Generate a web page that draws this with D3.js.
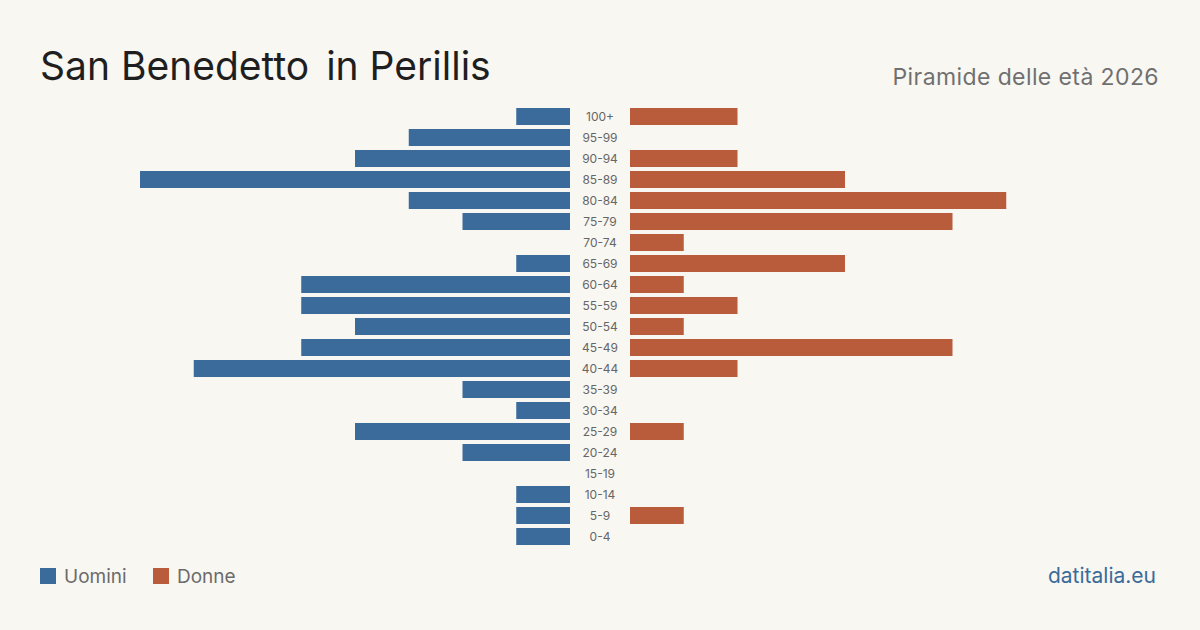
<!DOCTYPE html>
<html><head><meta charset="utf-8">
<script src="https://cdn.jsdelivr.net/npm/d3@7"></script>
<style>
html,body{margin:0;padding:0;background:#f9f7f2;}
svg{display:block;font-family:Inter,"Noto Sans",sans-serif;}
</style></head>
<body>
<svg id="c" width="1200" height="630"></svg>
<script>
const ages = ["100+","95-99","90-94","85-89","80-84","75-79","70-74","65-69","60-64","55-59","50-54","45-49","40-44","35-39","30-34","25-29","20-24","15-19","10-14","5-9","0-4"];
const men   = [1,3,4,8,3,2,0,1,5,5,4,5,7,2,1,4,2,0,1,1,1];
const women = [2,0,2,4,7,6,1,4,1,2,1,6,2,0,0,1,0,0,0,1,0];
const seriesNames = ["Uomini","Donne"];
const colors = ["#3a6b9b","#b95c3c"];

const svg = d3.select("#c");
svg.append("rect").attr("width",1200).attr("height",630).attr("fill","#f9f7f2");

const t = svg.append("text").attr("x",40).attr("y",80).attr("font-size",39).attr("fill","#1f1f1f");
t.append("tspan").text("San Benedetto");
t.append("tspan").attr("dx",6).text(" in Perillis");
svg.append("text").attr("x",1159).attr("y",85).attr("font-size",23).attr("fill","#707070")
  .attr("letter-spacing",0.4).attr("text-anchor","end").text("Piramide delle età 2026");

const y = d3.scaleBand().domain(ages).range([106,547]).paddingInner(0.19).paddingOuter(0.095);
const xL = d3.scaleLinear().domain([0,8]).range([570,140]);
const xR = d3.scaleLinear().domain([0,8]).range([630,1060]);

svg.append("g").selectAll("rect").data(ages).join("rect")
  .attr("x",(d,i)=>xL(men[i])).attr("y",d=>y(d))
  .attr("width",(d,i)=>xL(0)-xL(men[i])).attr("height",y.bandwidth())
  .attr("fill",colors[0]);
svg.append("g").selectAll("rect").data(ages).join("rect")
  .attr("x",xR(0)).attr("y",d=>y(d))
  .attr("width",(d,i)=>xR(women[i])-xR(0)).attr("height",y.bandwidth())
  .attr("fill",colors[1]);
svg.append("g").selectAll("text").data(ages).join("text")
  .attr("x",600).attr("y",d=>y(d)+y.bandwidth()/2).attr("dy","0.35em")
  .attr("text-anchor","middle").attr("font-size",12).attr("fill","#666")
  .text(d=>d);

const leg = svg.append("g");
const legX = [40,153];
seriesNames.forEach((n,i)=>{
  leg.append("rect").attr("x",legX[i]).attr("y",568).attr("width",16).attr("height",16).attr("fill",colors[i]);
  leg.append("text").attr("x",legX[i]+24).attr("y",583).attr("font-size",19).attr("fill","#6b6b6b").text(n);
});
svg.append("text").attr("x",1156).attr("y",583).attr("text-anchor","end").attr("font-size",21)
  .attr("fill","#3a6b9b").text("datitalia.eu");
</script>
</body></html>
